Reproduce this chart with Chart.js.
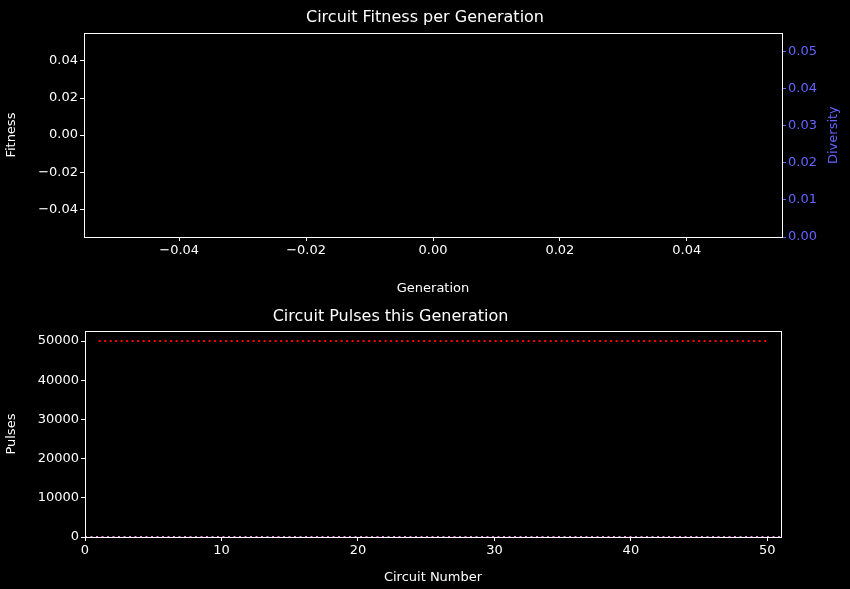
<!DOCTYPE html>
<html>
<head>
<meta charset="utf-8">
<script src="https://cdn.jsdelivr.net/npm/chart.js@4/dist/chart.umd.min.js"></script>
<style>
  body { margin: 0; background: #000; width: 850px; height: 589px; overflow: hidden; }
  .box { position: absolute; left: 0; width: 850px; }
</style>
</head>
<body>
<div class="box" style="top:0;height:300px"><canvas id="fitnessChart"></canvas></div>
<div class="box" style="top:300px;height:289px"><canvas id="pulseChart"></canvas></div>
<script>
// Fitness chart is empty in the reference
const generations = [];
const fitness = [];
const diversity = [];
const fitTicks = [-0.04, -0.02, 0.0, 0.02, 0.04];
const divTicks = [0.0, 0.01, 0.02, 0.03, 0.04, 0.05];

// Pulses chart
const circuits = [];
for (let i = 0; i <= 51; i++) circuits.push(i);
const pulseLimit = 50000;
const pulses = circuits.map(() => 0);
const circuitTicks = [0, 10, 20, 30, 40, 50];
const pulseTicks = [0, 10000, 20000, 30000, 40000, 50000];

const DIV_COLOR = '#6464ff';

Chart.defaults.color = '#ffffff';
Chart.defaults.font.family = "'DejaVu Sans', sans-serif";
Chart.defaults.font.size = 13;
Chart.defaults.animation = false;

const fmt = v => (v < 0 ? '\u2212' : '') + Math.abs(v).toFixed(2);
const fixTicks = arr => axis => { axis.ticks = arr.map(v => ({ value: v })); };
const fixW = w => axis => { axis.width = w; };
const fixH = h => axis => { axis.height = h; };

function grid(color) {
    return { display: true, drawOnChartArea: false, drawTicks: true, tickLength: 4, tickColor: color || '#fff', tickWidth: 1 };
}

// white box round the plot area
const frame = {
    id: 'frame',
    afterDraw(chart) {
        const a = chart.chartArea, c = chart.ctx;
        c.save(); c.strokeStyle = '#fff'; c.lineWidth = 1;
        c.strokeRect(Math.round(a.left) + 0.5, Math.round(a.top) + 0.5,
                     Math.round(a.right - a.left), Math.round(a.bottom - a.top));
        c.restore();
    }
};

// matplotlib-style right label (reads bottom to top)
const divLabel = {
    id: 'divLabel',
    afterDraw(chart) {
        const a = chart.chartArea, c = chart.ctx;
        c.save();
        c.translate(834, (a.top + a.bottom) / 2);
        c.rotate(-Math.PI / 2);
        c.fillStyle = DIV_COLOR;
        c.font = "13px 'DejaVu Sans', sans-serif";
        c.textAlign = 'center'; c.textBaseline = 'middle';
        c.fillText('Diversity', 0, 0);
        c.restore();
    }
};

new Chart(document.getElementById('fitnessChart'), {
    type: 'line',
    data: {
        labels: generations,
        datasets: [
            { label: 'Fitness', data: fitness, yAxisID: 'y', borderColor: '#fff' },
            { label: 'Diversity', data: diversity, yAxisID: 'y1', borderColor: DIV_COLOR }
        ]
    },
    options: {
        responsive: true,
        maintainAspectRatio: false,
        layout: { padding: 0 },
        plugins: {
            legend: { display: false },
            tooltip: { enabled: false },
            title: { display: true, text: 'Circuit Fitness per Generation', color: '#fff',
                     font: { size: 16, weight: 'normal' }, padding: { top: 8, bottom: 6 } }
        },
        scales: {
            x: {
                type: 'linear', min: -0.055, max: 0.055, grid: grid(), border: { color: '#fff' },
                afterBuildTicks: fixTicks(fitTicks), afterFit: fixH(63),
                ticks: { color: '#fff', padding: 2, callback: fmt, maxRotation: 0 },
                title: { display: true, text: 'Generation', color: '#fff', padding: { top: 0 } }
            },
            y: {
                type: 'linear', position: 'left', min: -0.055, max: 0.055, grid: grid(), border: { color: '#fff' },
                afterBuildTicks: fixTicks(fitTicks), afterFit: fixW(84),
                ticks: { color: '#fff', padding: 2, callback: fmt },
                title: { display: true, text: 'Fitness', color: '#fff', padding: { bottom: 2 } }
            },
            y1: {
                type: 'linear', position: 'right', min: 0, max: 0.055, grid: grid(DIV_COLOR), border: { color: '#fff' },
                afterBuildTicks: fixTicks(divTicks), afterFit: fixW(68),
                ticks: { color: DIV_COLOR, padding: 2, callback: fmt }
            }
        }
    },
    plugins: [frame, divLabel]
});

new Chart(document.getElementById('pulseChart'), {
    type: 'line',
    data: {
        datasets: [
            {
                label: 'Pulse limit',
                data: circuits.filter(c => c >= 1 && c <= 50).map(c => ({ x: c, y: pulseLimit })),
                borderColor: '#ff0000', borderWidth: 2, borderDash: [2, 3.5], pointRadius: 0, fill: false
            },
            {
                label: 'Pulses',
                data: circuits.map((c, i) => ({ x: c, y: pulses[i] })),
                borderColor: '#ee82ee', borderWidth: 2, borderDash: [2, 3.5], pointRadius: 0, fill: false
            }
        ]
    },
    options: {
        responsive: true,
        maintainAspectRatio: false,
        layout: { padding: { right: 69 } },
        plugins: {
            legend: { display: false },
            tooltip: { enabled: false },
            title: { display: true, text: 'Circuit Pulses this Generation', color: '#fff',
                     font: { size: 16, weight: 'normal' }, padding: { top: 7, bottom: 5 } }
        },
        scales: {
            x: {
                type: 'linear', min: 0, max: 51, grid: grid(), border: { color: '#fff' },
                afterBuildTicks: fixTicks(circuitTicks), afterFit: fixH(52),
                ticks: { color: '#fff', padding: 2, maxRotation: 0 },
                title: { display: true, text: 'Circuit Number', color: '#fff', padding: { top: 0 } }
            },
            y: {
                type: 'linear', min: 0, max: 52500, grid: grid(), border: { color: '#fff' },
                afterBuildTicks: fixTicks(pulseTicks), afterFit: fixW(85),
                ticks: { color: '#fff', padding: 2, callback: v => String(v) },
                title: { display: true, text: 'Pulses', color: '#fff', padding: { bottom: 2 } }
            }
        }
    },
    plugins: [frame]
});
</script>
</body>
</html>
